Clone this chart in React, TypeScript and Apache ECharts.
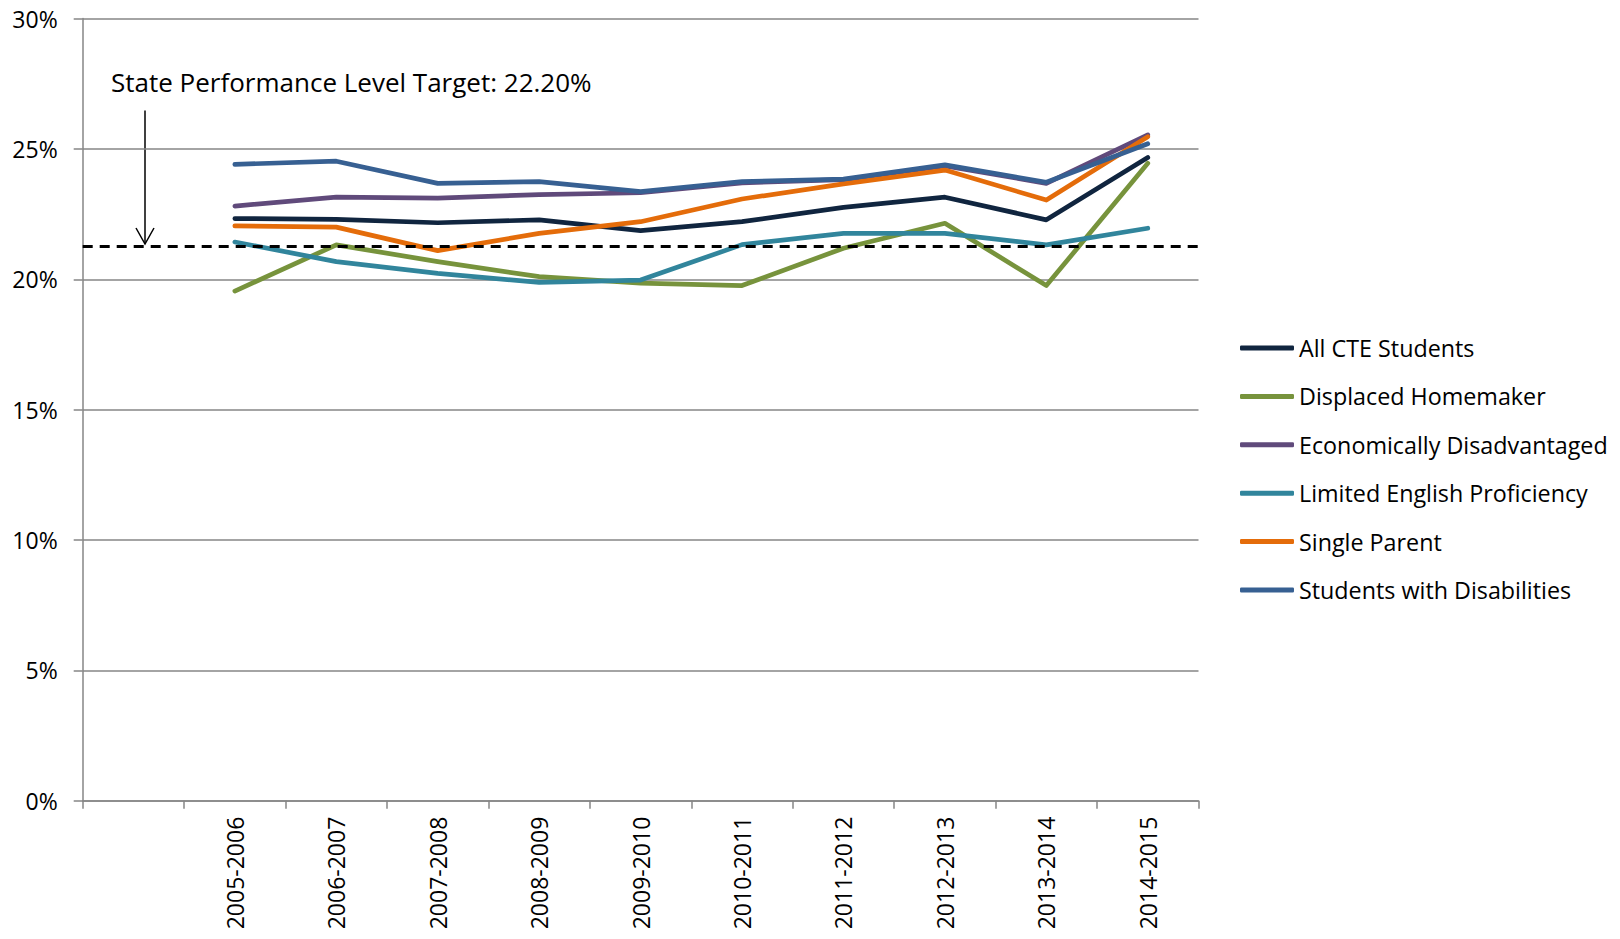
import React, { useEffect, useRef } from "react";
import * as echarts from "echarts";

const categories = ["", "2005-2006", "2006-2007", "2007-2008", "2008-2009", "2009-2010", "2010-2011", "2011-2012", "2012-2013", "2013-2014", "2014-2015"];

const allCte = [null, 22.33, 22.30, 22.17, 22.28, 21.87, 22.21, 22.76, 23.15, 22.28, 24.67];
const displacedHomemaker = [null, 19.55, 21.32, 20.68, 20.10, 19.85, 19.76, 21.19, 22.15, 19.76, 24.45];
const econDisadvantaged = [null, 22.81, 23.15, 23.11, 23.25, 23.32, 23.70, 23.82, 24.35, 23.68, 25.54];
const limitedEnglish = [null, 21.43, 20.68, 20.23, 19.88, 19.97, 21.33, 21.76, 21.76, 21.32, 21.96];
const singleParent = [null, 22.05, 22.00, 21.10, 21.76, 22.21, 23.08, 23.66, 24.19, 23.04, 25.47];
const disabilities = [null, 24.41, 24.53, 23.68, 23.75, 23.36, 23.75, 23.84, 24.39, 23.72, 25.20];

const seriesNames = ["All CTE Students", "Displaced Homemaker", "Economically Disadvantaged", "Limited English Proficiency", "Single Parent", "Students with Disabilities"];
const seriesValues = [allCte, displacedHomemaker, econDisadvantaged, limitedEnglish, singleParent, disabilities];
const seriesColors = ["#10253f", "#77933c", "#604a7b", "#31859c", "#e46c0a", "#376092"];

const targetLineValue = 21.28;
const annotationText = "State Performance Level Target: 22.20%";
const yTicks = [0, 5, 10, 15, 20, 25, 30];

const FONT = "'Open Sans', sans-serif";

export default function App() {
  const ref = useRef<HTMLDivElement>(null);
  useEffect(() => {
    if (!ref.current) return;
    const chart = echarts.init(ref.current, undefined, { renderer: "svg" });
    const series: any[] = seriesNames.map((name, i) => ({
      name,
      type: "line",
      data: seriesValues[i],
      symbol: "none",
      showSymbol: false,
      connectNulls: false,
      lineStyle: { color: seriesColors[i], width: 4.7, cap: "round", join: "round" },
      itemStyle: { color: seriesColors[i] },
      z: 2 + i,
    }));
    series[series.length - 1].markLine = {
      silent: true,
      symbol: ["none", "none"],
      label: { show: false },
      lineStyle: { color: "#000", width: 3, type: [10, 7] },
      data: [{ yAxis: targetLineValue }],
      z: 20,
    };
    chart.setOption({
      animation: false,
      textStyle: { fontFamily: FONT },
      grid: { left: 82.7, right: 421.5, top: 18.6, bottom: 138.3, containLabel: false },
      xAxis: {
        type: "category",
        data: categories,
        boundaryGap: true,
        axisLine: { show: true, lineStyle: { color: "#868686", width: 1.5 } },
        axisTick: { show: true, interval: 0, length: 8, lineStyle: { color: "#868686", width: 1.5 } },
        axisLabel: { interval: 0, rotate: 90, margin: 16, fontSize: 23, color: "#000", fontFamily: FONT },
        splitLine: { show: false },
      },
      yAxis: {
        type: "value",
        min: yTicks[0],
        max: yTicks[yTicks.length - 1],
        interval: 5,
        axisLine: { show: true, lineStyle: { color: "#868686", width: 1.5 } },
        axisTick: { show: true, length: 9, lineStyle: { color: "#868686", width: 1.5 } },
        axisLabel: { formatter: "{value}%", margin: 25, fontSize: 23, color: "#000", fontFamily: FONT },
        splitLine: { show: true, lineStyle: { color: "#868686", width: 1.5 } },
      },
      legend: {
        orient: "vertical",
        left: 1235,
        top: 331.5,
        itemWidth: 54,
        itemHeight: 5,
        itemGap: 25.4,
        icon: "roundRect",
        data: seriesNames,
        textStyle: { fontSize: 23.3, color: "#000", fontFamily: FONT },
      },
      graphic: [
        {
          type: "text",
          left: 111,
          top: 69,
          style: { text: annotationText, fontSize: 26, fill: "#000", fontFamily: FONT },
        },
        {
          type: "line",
          shape: { x1: 145, y1: 110.5, x2: 145, y2: 244 },
          style: { stroke: "#000", lineWidth: 1.5 },
        },
        {
          type: "polyline",
          shape: { points: [[136, 228], [145, 244], [154, 228]] },
          style: { stroke: "#000", lineWidth: 1.5, fill: "none" },
        },
      ],
      series,
    });
    return () => chart.dispose();
  }, []);
  return <div ref={ref} style={{ position: "absolute", left: 0, top: 0, width: 1620, height: 939 }} />;
}
